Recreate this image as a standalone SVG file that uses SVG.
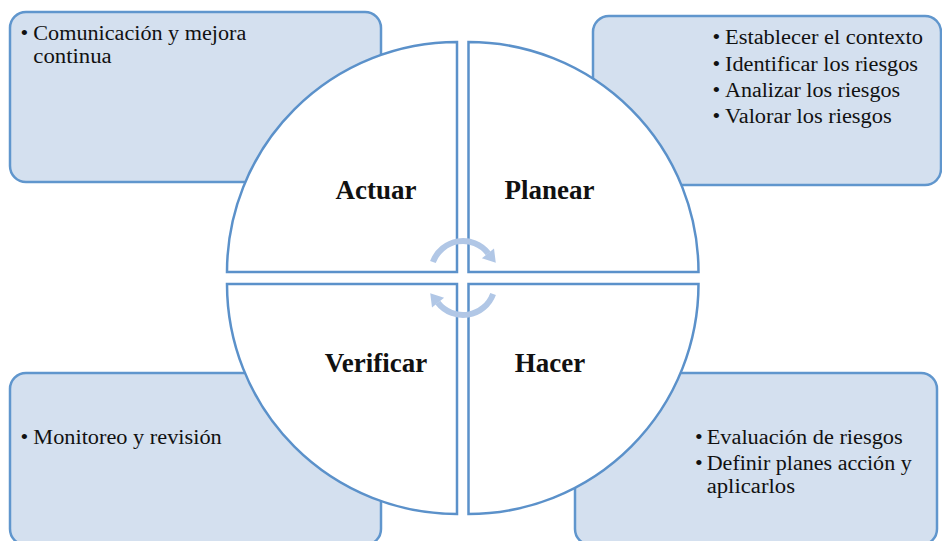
<svg xmlns="http://www.w3.org/2000/svg" width="942" height="541" viewBox="0 0 942 541">
  <style>
    .box { fill: #D4E0EF; stroke: #6096CD; stroke-width: 2.5; }
    .quad { fill: #FFFFFF; stroke: #5B91CA; stroke-width: 2.5; stroke-linejoin: miter; }
    .txt { font-family: "Liberation Serif", "Times New Roman", serif; font-size: 20px; fill: #111111; }
    .bul { font-family: "Liberation Serif", "Times New Roman", serif; font-size: 22px; fill: #111111; }
    .lbl { font-family: "Liberation Serif", "Times New Roman", serif; font-size: 27px; font-weight: bold; fill: #111111; text-anchor: middle; }
    .arc { fill: none; stroke: #B1C7E6; stroke-width: 6; }
    .head { fill: #B1C7E6; }
  </style>

  <g id="box-actuar">
    <rect class="box" x="10" y="12" width="371" height="170" rx="16" ry="16"/>
    <text class="bul" x="20.5" y="40">•</text>
    <text class="txt" x="33.3" y="40" textLength="213" lengthAdjust="spacingAndGlyphs">Comunicación y mejora</text>
    <text class="txt" x="33.3" y="62.8" textLength="78.4" lengthAdjust="spacingAndGlyphs">continua</text>
  </g>

  <g id="box-planear">
    <rect class="box" x="593" y="16" width="348" height="169" rx="16" ry="16"/>
    <text class="bul" x="712.5" y="44">•</text>
    <text class="txt" x="725" y="44" textLength="198" lengthAdjust="spacingAndGlyphs">Establecer el contexto</text>
    <text class="bul" x="712.5" y="70.5">•</text>
    <text class="txt" x="725" y="70.5" textLength="193" lengthAdjust="spacingAndGlyphs">Identificar los riesgos</text>
    <text class="bul" x="712.5" y="96.5">•</text>
    <text class="txt" x="725" y="96.5" textLength="175" lengthAdjust="spacingAndGlyphs">Analizar los riesgos</text>
    <text class="bul" x="712.5" y="122.5">•</text>
    <text class="txt" x="725" y="122.5" textLength="166.7" lengthAdjust="spacingAndGlyphs">Valorar los riesgos</text>
  </g>

  <g id="box-verificar">
    <rect class="box" x="10" y="373" width="371" height="172" rx="16" ry="16"/>
    <text class="bul" x="20.5" y="443.5">•</text>
    <text class="txt" x="33.3" y="443.5" textLength="188.4" lengthAdjust="spacingAndGlyphs">Monitoreo y revisión</text>
  </g>

  <g id="box-hacer">
    <rect class="box" x="575" y="373" width="362" height="172" rx="16" ry="16"/>
    <text class="bul" x="695" y="443.5">•</text>
    <text class="txt" x="706.7" y="443.5" textLength="196" lengthAdjust="spacingAndGlyphs">Evaluación de riesgos</text>
    <text class="bul" x="695" y="470">•</text>
    <text class="txt" x="706.7" y="470" textLength="205" lengthAdjust="spacingAndGlyphs">Definir planes acción y</text>
    <text class="txt" x="706.7" y="492.8" textLength="88.3" lengthAdjust="spacingAndGlyphs">aplicarlos</text>
  </g>

  <g id="quad-actuar">
    <path class="quad" d="M457,272 L227,272 A230,230 0 0 1 457,42 Z"/>
    <text class="lbl" x="376" y="199">Actuar</text>
  </g>
  <g id="quad-planear">
    <path class="quad" d="M468.5,272 L468.5,42 A230,230 0 0 1 698.5,272 Z"/>
    <text class="lbl" x="549.5" y="199">Planear</text>
  </g>
  <g id="quad-verificar">
    <path class="quad" d="M457,284 L457,514 A230,230 0 0 1 227,284 Z"/>
    <text class="lbl" x="376" y="372">Verificar</text>
  </g>
  <g id="quad-hacer">
    <path class="quad" d="M468.5,284 L698.5,284 A230,230 0 0 1 468.5,514 Z"/>
    <text class="lbl" x="550" y="372">Hacer</text>
  </g>

  <g id="connectors">
    <g id="cycle-top">
      <path class="arc" d="M432.9,262.1 A32,32 0 0 1 488.2,253.3"/>
      <polygon class="head" points="481.9,258.2 494.0,248.6 495.8,262.8"/>
    </g>
    <g id="cycle-bottom" transform="rotate(180 463 278)">
      <path class="arc" d="M432.9,262.1 A32,32 0 0 1 488.2,253.3"/>
      <polygon class="head" points="481.9,258.2 494.0,248.6 495.8,262.8"/>
    </g>
  </g>
</svg>
